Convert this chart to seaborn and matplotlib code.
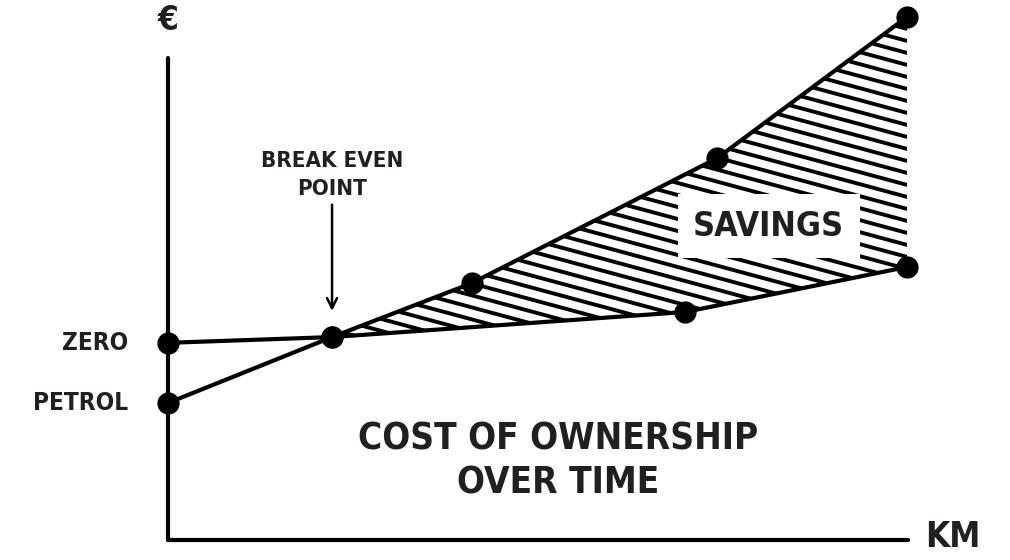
import numpy as np
import pandas as pd
import matplotlib
matplotlib.use("Agg")
import matplotlib.pyplot as plt
from matplotlib.transforms import IdentityTransform
import seaborn as sns

# chart values (km share of lifetime, cost index)
petrol_km = [0, 22.2, 41.1, 74.3, 100]
petrol_cost = [26.2, 38.8, 49.1, 73.0, 100]
zero_km = [0, 22.2, 70.0, 100]
zero_cost = [37.7, 38.8, 43.6, 52.2]
break_even_km = 22.2
break_even_cost = 38.8

sns.set_theme(style="white")
plt.rcParams["font.family"] = ["DejaVu Sans"]
ink = "#231f20"
font = dict(fontstretch="condensed", fontweight="bold", color=ink)

df = pd.concat([
    pd.DataFrame({"km": petrol_km, "cost": petrol_cost, "car": "PETROL"}),
    pd.DataFrame({"km": zero_km, "cost": zero_cost, "car": "ZERO"}),
])

fig = plt.figure(figsize=(10.1, 5.6), dpi=100)
ax = fig.add_axes([168 / 1010, 20 / 560, 740 / 1010, 482 / 560])
ax.set_xlim(0, 100.14)
ax.set_ylim(0, 92.16)

sns.lineplot(data=df, x="km", y="cost", units="car", estimator=None,
             color="black", lw=3, marker="o", markersize=16,
             markeredgewidth=0, clip_on=False, zorder=5, ax=ax)

# savings area between the two lines
grid = np.linspace(break_even_km, 100, 200)
top = np.interp(grid, petrol_km, petrol_cost)
bot = np.interp(grid, zero_km, zero_cost)
area = ax.fill_between(grid, bot, top, facecolor="none", edgecolor="none")

# hand-made shallow hatch, clipped to the area only (not the axes box)
xs = np.array([0, 1010])
for c in range(-400, 900, 12):
    ln, = ax.plot(xs, c - 0.27 * xs, color="black", lw=2.8,
                  transform=IdentityTransform(), zorder=2)
    ln.set_clip_box(fig.bbox)
    ln.set_clip_path(area.get_paths()[0], ax.transData)

for side in ["top", "right"]:
    ax.spines[side].set_visible(False)
for side in ["left", "bottom"]:
    ax.spines[side].set_linewidth(3)
    ax.spines[side].set_color("black")
    ax.spines[side].set_capstyle("round")
ax.set_xticks([])
ax.set_yticks([])
ax.set_xlabel("")
ax.set_ylabel("")
if ax.get_legend():
    ax.get_legend().remove()

ax.text(0, 99.4, "€", ha="center", va="center", fontsize=24, clip_on=False, **font)
ax.text(102.4, 0.6, "KM", ha="left", va="center", fontsize=25, clip_on=False, **font)
ax.text(-5.4, zero_cost[0], "ZERO", ha="right", va="center", fontsize=17.5, clip_on=False, **font)
ax.text(-5.4, petrol_cost[0], "PETROL", ha="right", va="center", fontsize=17.5, clip_on=False, **font)

ax.text(break_even_km, 69.8, "BREAK EVEN\nPOINT", ha="center", va="center",
        fontsize=16, linespacing=1.5, **font)
ax.annotate("", xy=(break_even_km, 43.8), xytext=(break_even_km, 64.1),
            arrowprops=dict(arrowstyle="->", lw=1.8, color="black",
                            mutation_scale=18, shrinkA=0, shrinkB=0))

ax.text(81.3, 60.0, "SAVINGS", ha="center", va="center", fontsize=24.5, zorder=6,
        bbox=dict(boxstyle="square,pad=0.45", facecolor="white", edgecolor="none"),
        **font)

ax.text(52.8, 15.1, "COST OF OWNERSHIP\nOVER TIME", ha="center", va="center",
        fontsize=26.5, linespacing=1.25, multialignment="center", **font)

fig.savefig("out.png", dpi=100)
